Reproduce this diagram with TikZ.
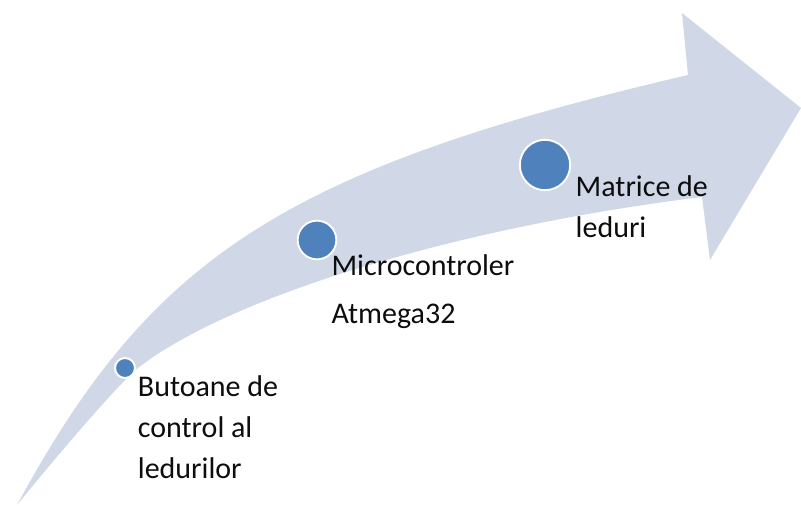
\documentclass[tikz,border=0pt]{standalone}
\usepackage{fontspec}
\setmainfont{Carlito}
\usepackage{tikz}
\usetikzlibrary{
  calc,
  positioning
}
\definecolor{arrowgray}{RGB}{208,216,232}
\definecolor{dotblue}{RGB}{79,129,189}
\definecolor{inkblack}{RGB}{13,13,13}
\tikzset{
  band/.style={fill=arrowgray,draw=none},
  dot/.style={circle,fill=dotblue,draw=white,line width=1.6pt,inner sep=0pt},
  lbl/.style={font=\fontsize{25.6}{35}\selectfont,align=left,
    text=inkblack,inner sep=0pt}
}

\begin{document}
\begin{tikzpicture}[x=0.03cm,y=-0.03cm]
  \useasboundingbox (0,0) rectangle (801,506);
  % curved arrow
  \fill[band] (17,505) .. controls (150,260) and (280,170) .. (688,75)
    -- (682,13) -- (801,108) -- (710,260) -- (702,197)
    .. controls (450,228) and (220,300) .. (133,372)
    .. controls (100,405) and (52,462) .. (17,505) -- cycle;
  % steps
  \node[dot,minimum size=17pt] (small) at (125,368) {};
  \node[dot,minimum size=33pt] (medium) at (317,240) {};
  \node[dot,minimum size=43pt] (large) at (545,165) {};
  \node[lbl,below right=0mm and 1.5mm of small] (buttons)
    {Butoane de\\control al\\ledurilor};
  \node[lbl,below right=0mm and 0mm of medium] (mcu)
    {Microcontroler\\[6pt]Atmega32};
  \node[lbl,below right=-2.4mm and 3.6mm of large] (matrix)
    {Matrice de\\leduri};
\end{tikzpicture}
\end{document}
